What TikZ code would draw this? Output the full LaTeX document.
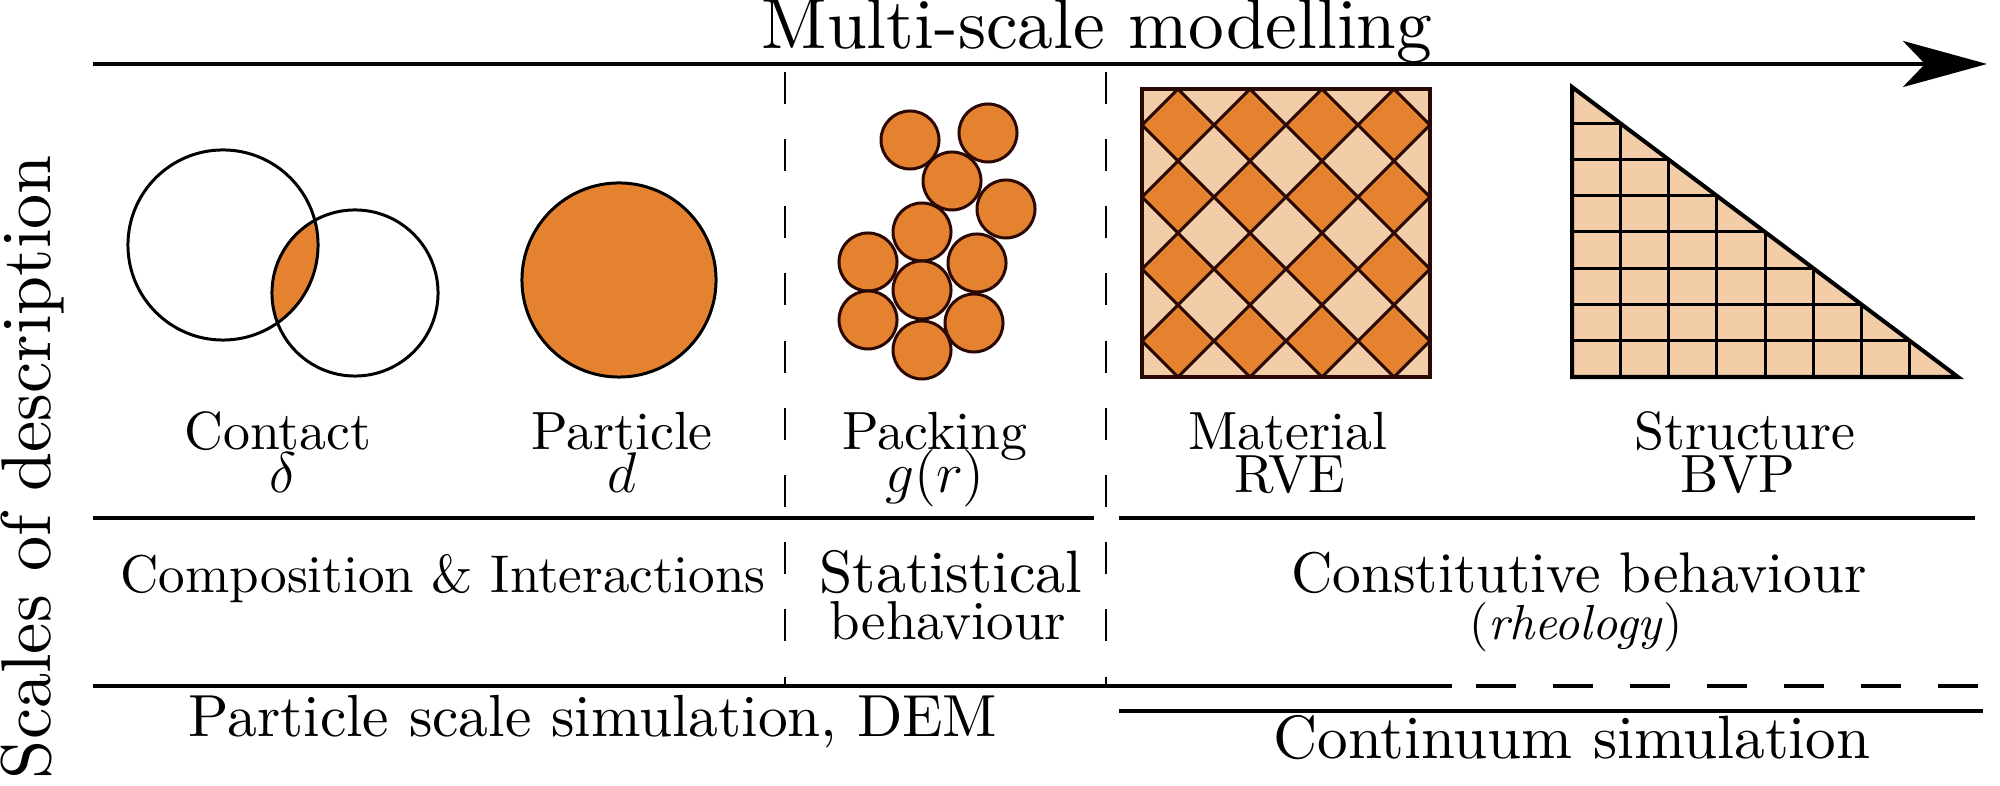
\RequirePackage{fix-cm}
\documentclass[tikz,border=0pt]{standalone}
\usepackage{fontspec}
\setmainfont{lmroman10-regular.otf}[ItalicFont=lmroman10-italic.otf,BoldFont=lmroman10-bold.otf]
\usetikzlibrary{arrows.meta}
\definecolor{orng}{RGB}{228,130,47}
\definecolor{lite}{RGB}{242,205,168}
\definecolor{dark}{RGB}{42,8,4}
\tikzset{
  txt/.style={anchor=base,inner sep=0pt},
  lbl/.style={txt,font=\fontsize{15.3}{18}\selectfont},
  mth/.style={txt,font=\fontsize{16.3}{18}\selectfont},
  rule/.style={line width=1.15pt},
  vdash/.style={line width=0.6pt,dash pattern=on 9.1pt off 10pt},
  hdash/.style={line width=1.15pt,dash pattern=on 11.4pt off 10.5pt},
  ball/.style={fill=orng,draw=dark,line width=0.85pt},
}
\begin{document}
\begin{tikzpicture}[x=0.01cm,y=-0.01cm]
\useasboundingbox (0,0) rectangle (2000,786);
% title arrow
\coordinate (a0) at (93,64);
\coordinate (a1) at (1987,64);
\draw[rule,-{Stealth[length=0.84cm,width=0.46cm,inset=0.22cm]}] (a0) -- (a1);
\node[txt,font=\fontsize{20.3}{24}\selectfont] (title) at (1097,49) {Multi-scale modelling};
\node[txt,rotate=90,font=\fontsize{20}{24}\selectfont] (side) at (50,467) {Scales of description};
% dashed separators
\coordinate (d1t) at (785,72); \coordinate (d1b) at (785,686);
\coordinate (d2t) at (1106,72); \coordinate (d2b) at (1106,686);
\draw[vdash] (d1t) -- (d1b);
\draw[vdash] (d2t) -- (d2b);
% horizontal rules
\coordinate (h1a) at (93,518); \coordinate (h1b) at (1094,518);
\coordinate (h1c) at (1119,518); \coordinate (h1d) at (1975,518);
\draw[rule] (h1a) -- (h1b);
\draw[rule] (h1c) -- (h1d);
\coordinate (h2a) at (93,686); \coordinate (h2b) at (1452,686);
\coordinate (h2c) at (1476,686); \coordinate (h2d) at (1980,686);
\draw[rule] (h2a) -- (h2b);
\draw[hdash] (h2c) -- (h2d);
\coordinate (h3a) at (1119,711); \coordinate (h3b) at (1983,711);
\draw[rule] (h3a) -- (h3b);
% contact
\begin{scope}
  \clip (223,245) circle[radius=0.95cm];
  \fill[orng] (355,293) circle[radius=0.83cm];
\end{scope}
\draw[line width=0.85pt] (223,245) circle[radius=0.95cm];
\draw[line width=0.85pt] (355,293) circle[radius=0.83cm];
% particle
\draw[fill=orng,line width=0.85pt] (619,280) circle[radius=0.97cm];
% packing
\foreach \x/\y in {910/140,988/133,952/181,1006/209,922/232,868/262,977/263,922/290,868/320,974/323,922/350}
  \draw[ball] (\x,\y) circle[radius=0.29cm];
% RVE
\fill[lite] (1142,89) rectangle (1430,377);
\foreach \i in {0,...,3}{
  \foreach \j in {0,...,3}{
    \pgfmathsetmacro{\cx}{1178+72*\i}
    \pgfmathsetmacro{\cy}{125+72*\j}
    \draw[fill=orng,draw=dark,line width=0.85pt,line join=miter] (\cx-36,\cy) -- (\cx,\cy-36) -- (\cx+36,\cy) -- (\cx,\cy+36) -- cycle;
  }
}
\draw[dark,line width=1.15pt] (1142,89) rectangle (1430,377);
% BVP triangle
\begin{scope}
  \clip (1572,87) -- (1572,377) -- (1958,377) -- cycle;
  \fill[lite] (1572,87) rectangle (1958,377);
  \foreach \k in {1,...,7}{
    \draw[line width=0.85pt] (1572+48.25*\k,87) -- (1572+48.25*\k,377);
    \draw[line width=0.85pt] (1572,87+36.25*\k) -- (1958,87+36.25*\k);
  }
\end{scope}
\draw[line width=1.15pt,line join=miter] (1572,87) -- (1572,377) -- (1958,377) -- cycle;
% labels
\node[lbl] (l1) at (278,450) {Contact};
\node[mth] (l1b) at (283,493) {$\delta$};
\node[lbl] (l2) at (622,450) {Particle};
\node[mth] (l2b) at (622,493) {$d$};
\node[lbl] (l3) at (935,450) {Packing};
\node[mth] (l3b) at (935,493) {$g(r)$};
\node[lbl] (l4) at (1288,450) {Material};
\node[lbl] (l4b) at (1290,493) {RVE};
\node[lbl] (l5) at (1745,450) {Structure};
\node[lbl] (l5b) at (1738,493) {BVP};
% middle row
\node[txt,font=\fontsize{15.1}{18}\selectfont] (m1) at (443,593) {Composition \& Interactions};
\node[txt,font=\fontsize{17}{18}\selectfont] (m2) at (951,593) {Statistical};
\node[txt,font=\fontsize{15.6}{18}\selectfont] (m2b) at (948,640) {behaviour};
\node[txt,font=\fontsize{16.3}{18}\selectfont] (m3) at (1579,593) {Constitutive behaviour};
\node[txt,font=\fontsize{14}{16}\selectfont] (m3b) at (1576,640) {(\textit{rheology})};
% bottom
\node[txt,font=\fontsize{16.9}{20}\selectfont] (b1) at (593,737) {Particle scale simulation, DEM};
\node[txt,font=\fontsize{17.4}{20}\selectfont] (b2) at (1572,759) {Continuum simulation};
\end{tikzpicture}
\end{document}
